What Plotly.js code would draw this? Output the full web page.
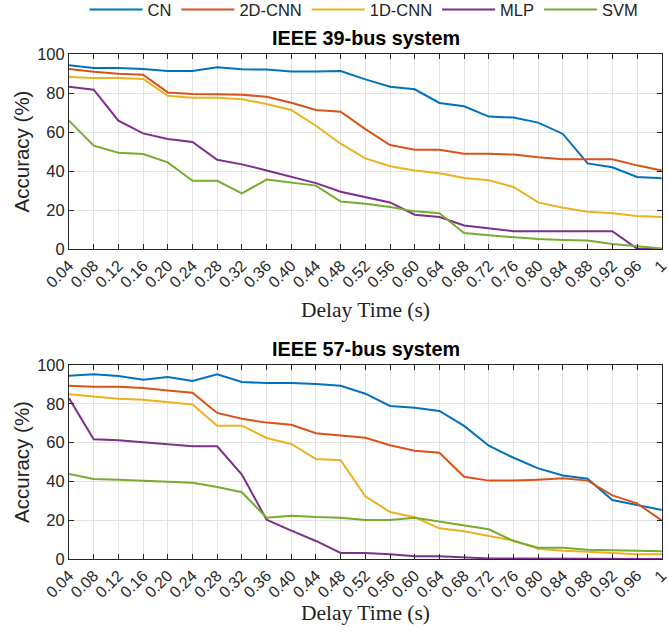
<!DOCTYPE html>
<html>
<head>
<meta charset="utf-8">
<script src="https://cdn.plot.ly/plotly-3.0.1.min.js"></script>
<style>html,body{margin:0;padding:0;background:#fff;}#chart{width:668px;height:642px;}</style>
</head>
<body>
<div id="chart"></div>
<script>
const delays = [0.04,0.08,0.12,0.16,0.20,0.24,0.28,0.32,0.36,0.40,0.44,0.48,0.52,0.56,0.60,0.64,0.68,0.72,0.76,0.80,0.84,0.88,0.92,0.96,1.00];
const tickLabels = ["0.04","0.08","0.12","0.16","0.20","0.24","0.28","0.32","0.36","0.40","0.44","0.48","0.52","0.56","0.60","0.64","0.68","0.72","0.76","0.80","0.84","0.88","0.92","0.96","1"];
const seriesNames = ["CN","2D-CNN","1D-CNN","MLP","SVM"];

const cn39    = [94.3,92.8,92.8,92.3,91.3,91.3,93.2,92.2,92.0,91.0,91.0,91.3,87.0,83.2,81.9,74.9,73.2,67.9,67.4,64.8,59.0,43.9,41.9,36.9,36.3];
const cnn2d39 = [92.3,90.9,89.9,89.4,80.3,79.5,79.3,79.1,78.1,75.0,71.3,70.4,61.5,53.3,50.9,50.9,48.9,48.9,48.4,47.0,46.0,46.0,46.0,42.9,40.3];
const cnn1d39 = [88.2,87.7,87.7,87.2,78.6,77.6,77.6,76.8,74.4,71.3,63.2,54.0,46.5,42.4,40.2,38.8,36.4,35.2,31.8,23.9,21.2,19.1,18.3,16.9,16.4];
const mlp39   = [83.2,81.7,65.8,59.3,56.4,54.9,45.8,43.4,40.3,36.9,33.8,29.4,26.8,23.9,17.6,16.4,12.1,10.6,9.1,9.1,9.1,9.1,9.1,0.2,0.0];
const svm39   = [65.8,53.0,49.4,48.7,44.4,35.0,35.0,28.5,35.6,34.2,32.5,24.3,23.2,21.5,19.3,18.3,8.2,7.0,6.0,5.1,4.6,4.3,2.6,1.4,0.3];

const cn57    = [94.5,95.2,94.3,92.4,93.8,91.8,95.2,91.2,90.7,90.7,90.2,89.3,85.2,78.9,78.0,76.3,68.6,58.4,52.2,46.7,43.0,41.4,30.4,28.0,25.3];
const cnn2d57 = [89.3,88.8,88.8,88.1,86.8,85.7,75.3,72.3,70.3,69.2,64.8,63.7,62.5,58.6,55.8,54.8,42.4,40.4,40.4,40.9,41.6,40.4,32.8,28.7,19.9];
const cnn1d57 = [84.9,83.7,82.6,82.1,80.8,79.7,68.7,68.7,62.4,59.3,51.5,50.9,32.3,24.2,21.5,15.8,14.3,12.0,9.5,5.3,4.3,3.8,3.1,2.4,2.4];
const mlp57   = [82.8,61.7,61.2,60.3,59.1,58.1,58.1,43.5,20.3,14.6,9.3,3.1,3.1,2.4,1.4,1.4,0.9,0.3,0.3,0.3,0.0,0.0,0.0,0.0,0.0];
const svm57   = [43.8,41.2,40.9,40.4,40.0,39.3,37.1,34.4,21.3,22.3,21.6,21.3,20.1,20.1,21.3,19.2,17.4,15.3,9.3,5.8,5.8,4.8,4.5,4.1,4.0];

const colors = ["#0072BD","#D95319","#EDB120","#7E2F8E","#77AC30"];
const set39 = [cn39,cnn2d39,cnn1d39,mlp39,svm39];
const set57 = [cn57,cnn2d57,cnn1d57,mlp57,svm57];

const traces = [];
set39.forEach((ys,i)=>traces.push({x:delays,y:ys,type:'scatter',mode:'lines',name:seriesNames[i],
  line:{color:colors[i],width:2},xaxis:'x',yaxis:'y',showlegend:true,legendgroup:seriesNames[i]}));
set57.forEach((ys,i)=>traces.push({x:delays,y:ys,type:'scatter',mode:'lines',name:seriesNames[i],
  line:{color:colors[i],width:2},xaxis:'x2',yaxis:'y2',showlegend:false,legendgroup:seriesNames[i]}));

const axCol = '#262626';
const sans = 'Liberation Sans, Arial, sans-serif';
function xax(anchor,standoff){
  return {anchor:anchor,domain:[69/668,662/668],range:[0.04,1.0005],tickmode:'array',tickvals:delays,ticktext:tickLabels,
    tickangle:-45,ticks:'inside',ticklen:5,tickcolor:axCol,showline:true,linecolor:axCol,linewidth:1,mirror:'ticks',
    showgrid:true,gridcolor:'#e3e3e3',zeroline:false,ticklabeloverflow:'allow',automargin:false,
    tickfont:{family:sans,size:16,color:axCol},
    title:{text:'Delay Time (s)',font:{family:'Liberation Serif, Times New Roman, serif',size:21.5,color:'#222'},standoff:standoff}};
}
function yax(anchor,dom){
  return {anchor:anchor,domain:dom,range:[0,100],tickvals:[0,20,40,60,80,100],ticks:'inside',ticklen:5,tickcolor:axCol,
    showline:true,linecolor:axCol,linewidth:1,mirror:'ticks',showgrid:true,gridcolor:'#e3e3e3',zeroline:false,automargin:false,
    tickfont:{family:sans,size:16.5,color:axCol},
    title:{text:'Accuracy (%)',font:{family:sans,size:20.5,color:'#222'},standoff:1}};
}

const layout = {
  width:668,height:642,margin:{l:0,r:0,t:0,b:0,autoexpand:false},paper_bgcolor:'#fff',plot_bgcolor:'#fff',
  xaxis:xax('y',11), yaxis:yax('x',[1-249/642,1-54/642]),
  xaxis2:xax('y2',4), yaxis2:yax('x2',[1-559/642,1-365/642]),
  showlegend:true,
  legend:{orientation:'h',x:0.545,xanchor:'center',y:1.012,yanchor:'top',font:{family:sans,size:16.5,color:'#222'},
    bgcolor:'rgba(0,0,0,0)',itemwidth:53,tracegroupgap:0},
  annotations:[
    {text:'<b>IEEE 39-bus system</b>',xref:'paper',yref:'paper',x:366/668,y:1-38.5/642,xanchor:'center',yanchor:'middle',showarrow:false,
     font:{family:sans,size:19.8,color:'#000'}},
    {text:'<b>IEEE 57-bus system</b>',xref:'paper',yref:'paper',x:366/668,y:1-348.5/642,xanchor:'center',yanchor:'middle',showarrow:false,
     font:{family:sans,size:19.8,color:'#000'}}
  ]
};
Plotly.newPlot('chart',traces,layout,{displayModeBar:false,staticPlot:true});
</script>
</body>
</html>
